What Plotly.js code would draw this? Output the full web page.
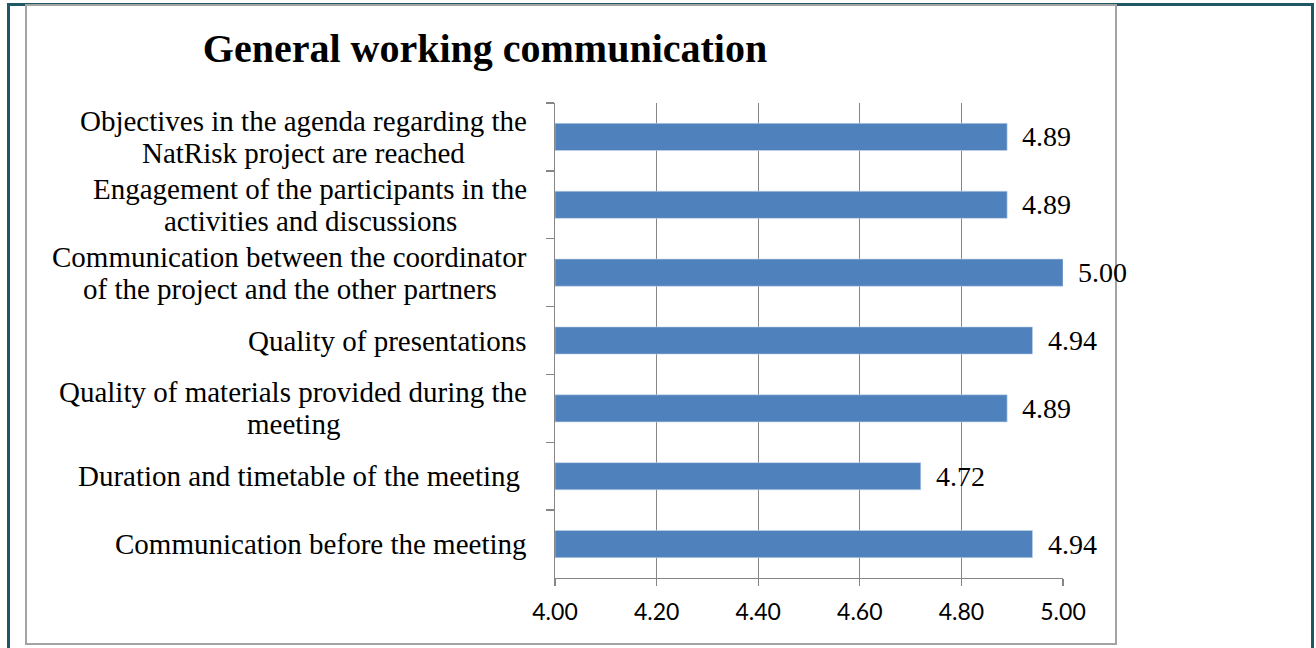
<!DOCTYPE html>
<html>
<head>
<meta charset="utf-8">
<script src="https://cdn.plot.ly/plotly-3.0.1.min.js"></script>
<style>
  html, body { margin: 0; padding: 0; background: #ffffff; overflow: hidden; }
  #outer { position: absolute; left: 7px; top: 3px; width: 1307px; height: 700px; box-sizing: border-box; border: 3px solid #1d5864; }
  #inner { position: absolute; left: 25px; top: 4px; width: 1092px; height: 641px; box-sizing: border-box; border: 2px solid #a3a3a3; }
  #chart { position: absolute; left: 0; top: 0; width: 1316px; height: 648px; }
</style>
</head>
<body>
<div id="outer"></div>
<div id="inner"></div>
<div id="chart"></div>
<script>
// Categories listed top to bottom as shown in the chart
const categories = [
  "Objectives in the agenda regarding the<br>NatRisk project are reached",
  "Engagement of the participants in the<br>activities and discussions",
  "Communication between the coordinator<br>of the project and the other partners",
  "Quality of presentations",
  "Quality of materials provided during the<br>meeting",
  "Duration and timetable of the meeting ",
  "Communication before the meeting"
];
const values = [4.89, 4.89, 5.00, 4.94, 4.89, 4.72, 4.94];
const valueLabels = ["4.89", "4.89", "5.00", "4.94", "4.89", "4.72", "4.94"];
const xTickValues = [4.0, 4.2, 4.4, 4.6, 4.8, 5.0];
const xTickLabels = ["4.00", "4.20", "4.40", "4.60", "4.80", "5.00"];
const chartTitle = "General working communication";
const axisMin = 4;

const serif = "'Liberation Serif', 'Times New Roman', serif";
const LINE_GAP = 32;

const trace = {
  type: 'bar',
  orientation: 'h',
  y: categories,
  x: values.map(v => v - axisMin),
  base: axisMin,
  marker: { color: '#4f81bd', line: { color: '#c5d5ea', width: 0.6 } },
  hoverinfo: 'none'
};

const annotations = [];
const groups = [];
categories.forEach((c, i) => {
  const lines = c.split('<br>');
  groups[i] = [];
  lines.forEach((ln, k) => {
    groups[i].push(annotations.length);
    annotations.push({
      xref: 'paper', yref: 'y', x: 0, y: c,
      xanchor: 'right', yanchor: 'middle', xshift: -26,
      yshift: -((k - (lines.length - 1) / 2) * LINE_GAP),
      text: ln, showarrow: false, align: 'center',
      font: { family: serif, size: 29, color: '#000000' }
    });
  });
  annotations.push({
    xref: 'x', yref: 'y', x: values[i], y: c,
    xanchor: 'left', yanchor: 'middle', xshift: 13,
    text: valueLabels[i], showarrow: false,
    font: { family: serif, size: 28, color: '#000000' }
  });
});

const layout = {
  width: 1316, height: 648,
  margin: { l: 555, r: 253, t: 103, b: 70, pad: 0 },
  paper_bgcolor: 'rgba(0,0,0,0)',
  plot_bgcolor: 'rgba(0,0,0,0)',
  showlegend: false,
  bargap: 0.6,
  title: {
    text: '<b>' + chartTitle + '</b>',
    x: 485 / 1316, xref: 'container', xanchor: 'center',
    y: 1 - 48 / 648, yref: 'container', yanchor: 'middle',
    font: { family: serif, size: 40, color: '#000000' }
  },
  xaxis: {
    range: [4, 5],
    tickvals: xTickValues,
    ticktext: xTickLabels,
    ticks: 'outside', ticklen: 7, tickcolor: '#868686', tickwidth: 1.3,
    ticklabelstandoff: 6,
    showgrid: true, gridcolor: '#868686', gridwidth: 1.3,
    showline: true, linecolor: '#868686', linewidth: 1.3,
    zeroline: false,
    tickfont: { family: "Lato, 'Open Sans', sans-serif", size: 23, color: '#000000' },
    fixedrange: true
  },
  yaxis: {
    type: 'category',
    categoryorder: 'array', categoryarray: categories,
    range: [6.5, -0.5],
    showticklabels: false,
    tickson: 'boundaries',
    ticks: 'outside', ticklen: 8, tickcolor: '#868686', tickwidth: 1.3,
    showgrid: false,
    showline: true, linecolor: '#868686', linewidth: 1.3,
    zeroline: false,
    fixedrange: true
  },
  annotations: annotations
};

// Center multi-line labels: measure each line and shift shorter lines so all
// lines of one label share the widest line's center (as in the reference).
const gd = document.getElementById('chart');
Plotly.newPlot(gd, [trace], layout, { staticPlot: true, displayModeBar: false }).then(() => {
  const nodes = gd.querySelectorAll('.annotation');
  const widths = [];
  nodes.forEach((n, idx) => {
    const t = n.querySelector('text');
    widths[idx] = t ? t.getBBox().width : 0;
  });
  const upd = {};
  groups.forEach(idxs => {
    if (idxs.length < 2) return;
    const maxW = Math.max(...idxs.map(j => widths[j]));
    idxs.forEach(j => {
      upd['annotations[' + j + '].xshift'] = -26 - (maxW - widths[j]) / 2;
    });
  });
  return Plotly.relayout(gd, upd);
});
</script>
</body>
</html>
